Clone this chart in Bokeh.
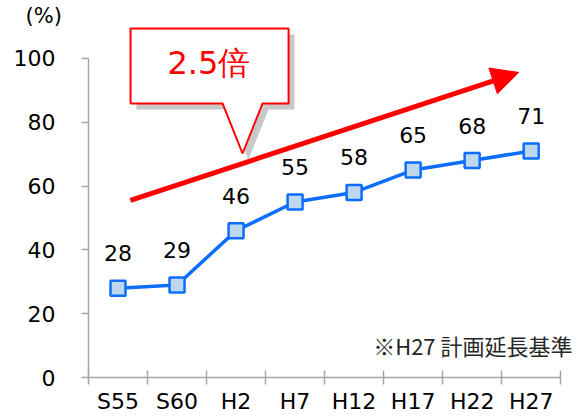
from bokeh.plotting import figure
from bokeh.models import (Range1d, FixedTicker, ColumnDataSource, LabelSet, Label,
                          Arrow, NormalHead)
from bokeh.embed import file_html
from bokeh.resources import INLINE
from bokeh.core.properties import value

# ---- data ----
categories = ["S55", "S60", "H2", "H7", "H12", "H17", "H22", "H27"]
rates = [28, 29, 46, 55, 58, 65, 68, 71]
rate_labels = ["28", "29", "46", "55", "58", "65", "68", "71"]
y_ticks = [0, 20, 40, 60, 80, 100]

# ---- styling constants ----
BLUE = "#0d6efd"
FILL = "#bdd7ee"
RED = "#ff0000"
AXIS = "#a6a6a6"
LATIN = "DejaVu Sans"
CJK = "Noto Sans CJK JP"

xs = [i + 0.5 for i in range(len(categories))]
src = ColumnDataSource(dict(x=xs, y=rates, lab=rate_labels))

p = figure(width=583, height=418, x_range=Range1d(0, 8.2), y_range=Range1d(0, 110),
           output_backend="svg", toolbar_location=None,
           min_border_left=88, min_border_right=11, min_border_top=26, min_border_bottom=41)
p.outline_line_color = None
p.xgrid.visible = False
p.ygrid.visible = False
p.background_fill_color = "white"
p.border_fill_color = "white"

# unit label as title (outside the frame)
p.title.text = "(%)"
p.title.align = "left"
p.title.offset = -63
p.title.standoff = -3
p.title.vertical_align = "bottom"
p.title.text_font = LATIN
p.title.text_font_size = "21px"
p.title.text_font_style = "normal"
p.title.text_color = "black"

# y axis
ya = p.yaxis[0]
ya.ticker = FixedTicker(ticks=y_ticks)
ya.bounds = (0, 100)
ya.axis_line_color = AXIS
ya.axis_line_width = 1.5
ya.major_tick_line_color = AXIS
ya.major_tick_line_width = 1.5
ya.major_tick_out = 7
ya.major_tick_in = 0
ya.minor_tick_line_color = None
ya.major_label_text_font = LATIN
ya.major_label_text_font_size = "22px"
ya.major_label_text_color = "black"
ya.major_label_standoff = 26

# x axis
xa = p.xaxis[0]
xa.ticker = FixedTicker(ticks=xs, minor_ticks=list(range(len(categories) + 1)))
xa.major_label_overrides = {x: c for x, c in zip(xs, categories)}
xa.bounds = (0, len(categories))
xa.axis_line_color = AXIS
xa.axis_line_width = 1.5
xa.major_tick_line_color = None
xa.major_tick_out = 0
xa.major_tick_in = 0
xa.minor_tick_line_color = AXIS
xa.minor_tick_line_width = 1.5
xa.minor_tick_in = 7
xa.minor_tick_out = 7
xa.major_label_text_font = LATIN
xa.major_label_text_font_size = "22px"
xa.major_label_text_color = "black"
xa.major_label_standoff = 4

# data line + markers
p.line("x", "y", source=src, line_color=BLUE, line_width=3.5)
p.scatter("x", "y", source=src, marker="square", size=15, fill_color=FILL,
          line_color=BLUE, line_width=2.5)
p.add_layout(LabelSet(x="x", y="y", text="lab", source=src, y_offset=35,
                      text_align="center", text_baseline="middle",
                      text_font=value(LATIN), text_font_size="22px", text_color="black"))

# trend arrow
p.add_layout(Arrow(x_start=0.71, y_start=55.5, x_end=7.29, y_end=95.6,
                   line_color=RED, line_width=5,
                   end=NormalHead(size=27, fill_color=RED, line_color=RED, line_width=1)))

# callout (shadow + box)
cx = [0.712, 3.390, 3.390, 2.949, 2.610, 2.271, 0.712]
cy = [109.4, 109.4, 85.9, 85.9, 70.2, 85.9, 85.9]
p.patch([v + 0.1 for v in cx], [v - 1.9 for v in cy], fill_color="#c8c8c8",
        line_color=None)
p.patch(cx, cy, fill_color="white", line_color=RED, line_width=2)
p.add_layout(Label(x=2.04, y=98.5, text="2.5倍", text_align="center",
                   text_baseline="middle", text_font=LATIN,
                   text_font_size="32px", text_color=RED))

# footnote
p.add_layout(Label(x=8.2, y=10.3, text="※H27 計画延長基準", text_align="right",
                   text_baseline="middle", text_font=CJK,
                   text_font_size="22px", text_color="#262626"))

open("out.html", "w").write(file_html(p, INLINE))
